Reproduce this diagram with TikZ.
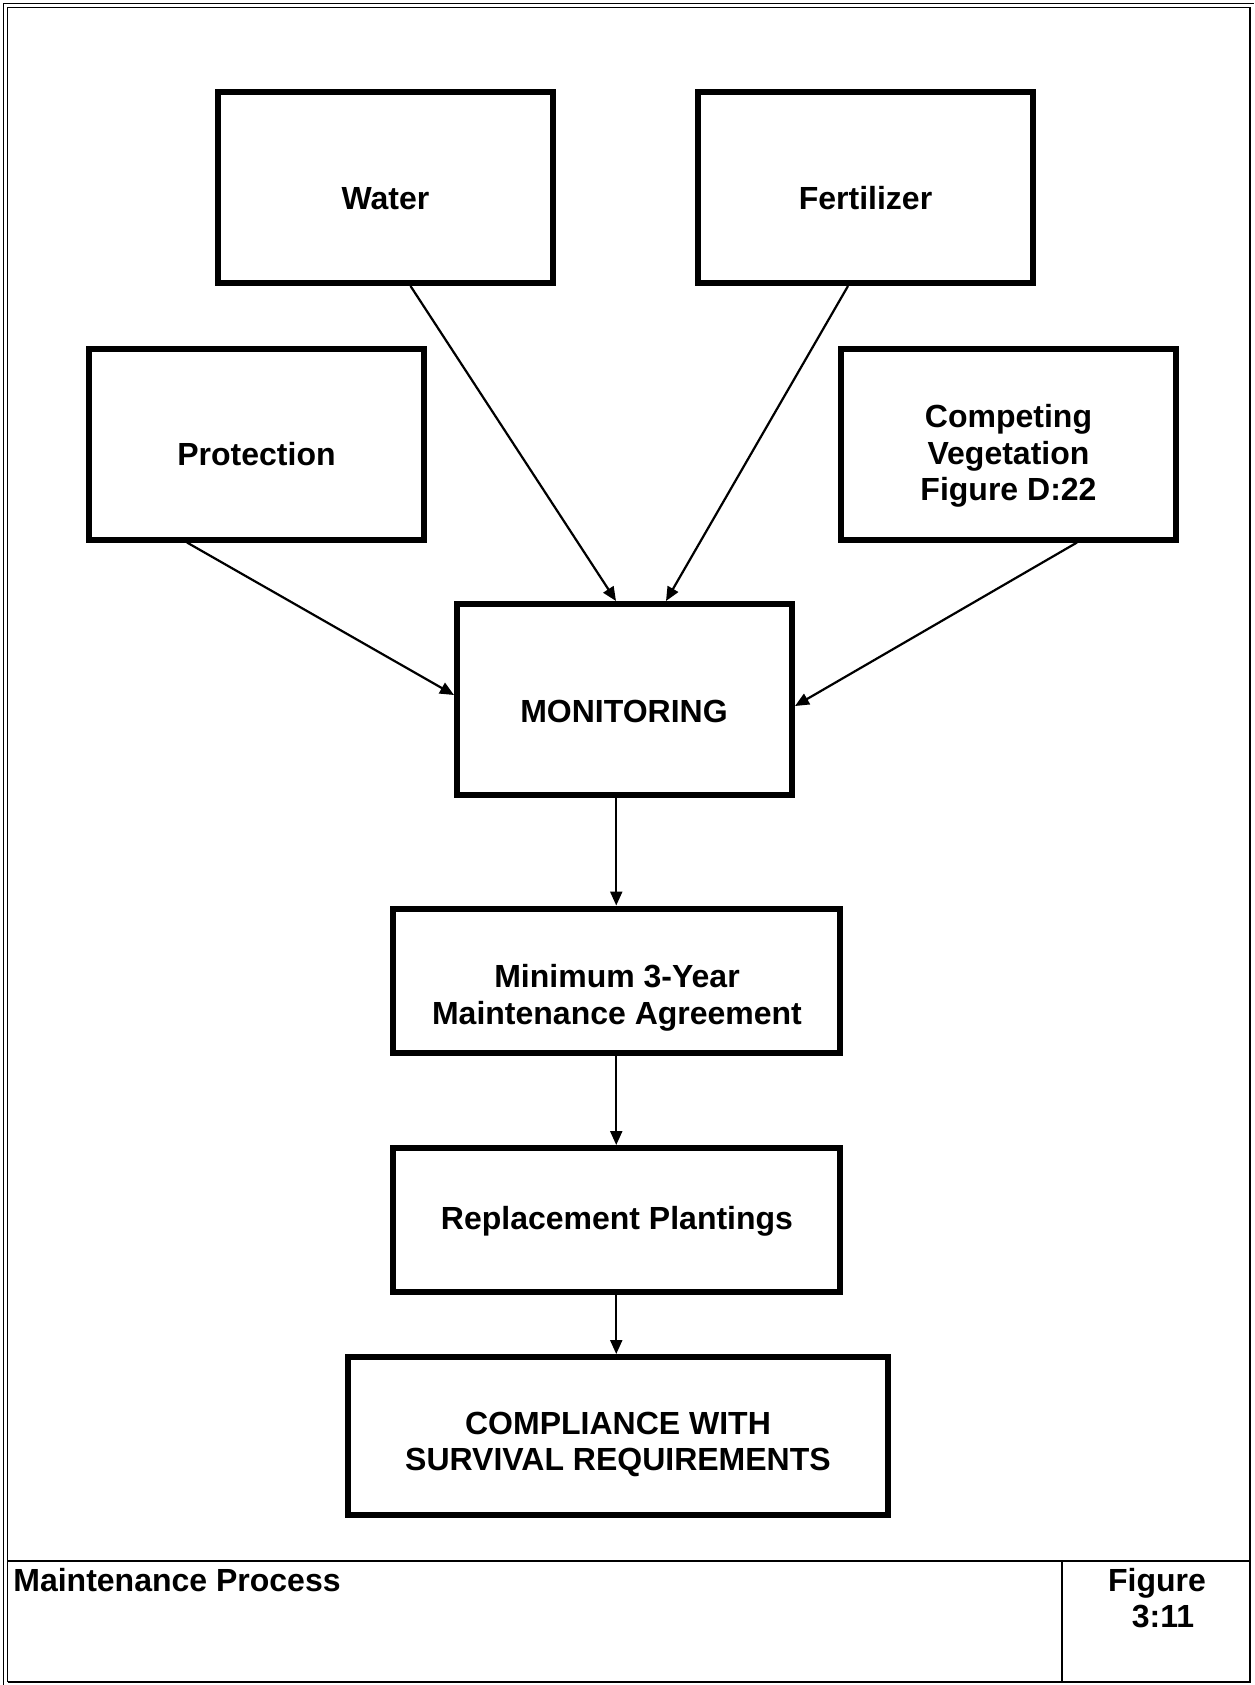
\documentclass[tikz,border=0pt]{standalone}
\usepackage{fontspec}
\setmainfont{Liberation Sans}
\usetikzlibrary{arrows.meta}
\begin{document}
\begin{tikzpicture}[x=0.5pt,y=-0.5pt,
  box/.style={draw, line width=3pt, inner sep=0pt, minimum width=167.5pt, minimum height=95.5pt},
  lbl/.style={font=\fontsize{16}{18.25}\selectfont\bfseries, inner sep=0pt, align=center},
  conn/.style={line width=1.1pt, -{Triangle[length=7pt,width=6pt]}},
  thinframe/.style={line width=0.8pt}]
\useasboundingbox (0,0) rectangle (1254,1685);
\fill[white] (0,0) rectangle (1254,1685);
% frame
\draw[thinframe] (3.5,1685) -- (3.5,3.5) -- (1254,3.5);
\draw[thinframe] (7.5,1682) -- (7.5,7.5) -- (1250,7.5);
\draw[line width=1.4pt] (1250,7.5) -- (1250,1682);
\draw[line width=1.1pt] (7.5,1682) -- (1250.7,1682);
\draw[line width=1pt] (7.5,1561) -- (1250,1561);
\draw[line width=1pt] (1062,1561) -- (1062,1682);
% boxes
\node[box] (water) at (385.5,187.5) {};
\node[lbl, anchor=base] (waterT) at (385.5,210) {Water};
\node[box] (fert) at (865.5,187.5) {};
\node[lbl, anchor=base] (fertT) at (865.5,210) {Fertilizer};
\node[box] (prot) at (256.5,444) {};
\node[lbl, anchor=base] (protT) at (256.5,465) {Protection};
\node[box] (comp) at (1008.5,444) {};
\node[lbl] (compT) at (1008.5,456) {Competing\\Vegetation\\Figure D:22};
\node[box] (mon) at (624.5,699.5) {};
\node[lbl, anchor=base] (monT) at (624,722) {MONITORING};
\node[box, minimum width=223.75pt, minimum height=72pt] (agr) at (616.25,980.5) {};
\node[lbl] (agrT) at (617,998) {Minimum 3-Year\\Maintenance Agreement};
\node[box, minimum width=223.75pt, minimum height=72pt] (rep) at (616.25,1220) {};
\node[lbl, anchor=base] (repT) at (617,1229) {Replacement Plantings};
\node[box, minimum width=270pt, minimum height=79pt] (surv) at (618,1436) {};
\node[lbl] (survT) at (618,1444.5) {COMPLIANCE WITH\\SURVIVAL REQUIREMENTS};
% footer
\node[lbl, anchor=base west] (title) at (13,1591.5) {Maintenance Process};
\node[lbl] (fig) at (1157,1598) {Figure\\\hspace*{6pt}3:11};
% connectors
\draw[conn] ([xshift=12.5pt]water.south) -- ([xshift=-4.25pt]mon.north);
\draw[conn] ([xshift=-8.75pt]fert.south) -- ([xshift=20.75pt]mon.north);
\draw[conn] ([xshift=-34.75pt]prot.south) -- ([yshift=2.25pt]mon.west);
\draw[conn] ([xshift=34.25pt]comp.south) -- ([yshift=-3.25pt]mon.east);
\draw[conn] (mon.south -| agr.north) -- (agr.north);
\draw[conn] (agr.south) -- (rep.north);
\draw[conn] (rep.south) -- (rep.south |- surv.north);
\end{tikzpicture}
\end{document}
